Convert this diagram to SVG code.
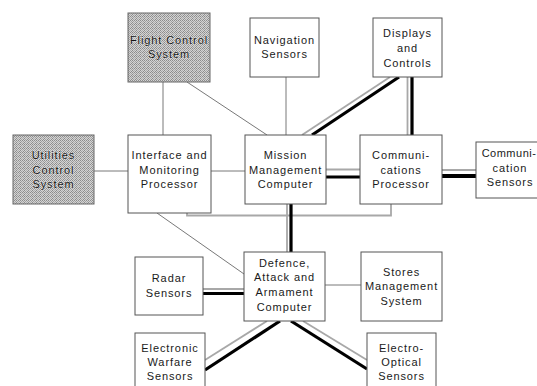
<svg xmlns="http://www.w3.org/2000/svg" width="537" height="386" viewBox="0 0 537 386">
  <defs>
    <!-- dithered grey fill for the control-system boxes -->
    <pattern id="dither" width="4" height="4" patternUnits="userSpaceOnUse">
      <rect width="4" height="4" fill="#d4d4d4"/>
      <rect x="0" y="0" width="1" height="1" fill="#8c8c8c"/>
      <rect x="2" y="0" width="1" height="1" fill="#8c8c8c"/>
      <rect x="1" y="1" width="1" height="1" fill="#a0a0a0"/>
      <rect x="3" y="1" width="1" height="1" fill="#a0a0a0"/>
      <rect x="0" y="2" width="1" height="1" fill="#8c8c8c"/>
      <rect x="2" y="2" width="1" height="1" fill="#b0b0b0"/>
      <rect x="1" y="3" width="1" height="1" fill="#a0a0a0"/>
      <rect x="3" y="3" width="1" height="1" fill="#8c8c8c"/>
    </pattern>
  </defs>
  <style>
    .box { fill: #ffffff; stroke: #555555; stroke-width: 1; }
    .shaded { fill: url(#dither); stroke: #666666; stroke-width: 1; }
    .lbl { font-family: "Liberation Sans", Arial, sans-serif; font-size: 11px; letter-spacing: 0.9px; fill: #1a1a1a; text-anchor: middle; }
    .lbl-shaded { stroke: #f2f2f2; stroke-width: 0.6px; paint-order: stroke; fill: #111111; }
    .thin { stroke: #555555; stroke-width: 0.8; fill: none; }
    .grey { stroke: #a8a8a8; stroke-width: 1.8; fill: none; }
    .thick { stroke: #000000; stroke-width: 3.2; fill: none; }
    .thicker { stroke: #000000; stroke-width: 4.2; fill: none; }
  </style>
  <rect width="537" height="386" fill="#ffffff"/>

  <g id="connectors">
    <!-- plain links -->
    <line class="thin" x1="163" y1="82" x2="163" y2="135"/>
    <line class="thin" x1="187" y1="82" x2="267" y2="135"/>
    <line class="thin" x1="286" y1="77" x2="286" y2="135"/>
    <line class="thin" x1="94" y1="171" x2="128" y2="171"/>
    <line class="thin" x1="211" y1="171" x2="245" y2="171"/>
    <line class="thin" x1="157" y1="213" x2="244" y2="274"/>
    <line class="thin" x1="325" y1="285" x2="361" y2="285"/>
    <!-- bus below the processors -->
    <polyline class="grey" points="187,213 187,215.5 391,215.5 391,204"/>
    <!-- Displays to Mission Management -->
    <line class="grey" x1="390" y1="77" x2="302" y2="135"/>
    <line class="thick" x1="399" y1="77" x2="312" y2="135"/>
    <!-- Displays to Communications Processor -->
    <line class="grey" x1="407.5" y1="77" x2="407.5" y2="135"/>
    <line class="thick" x1="412" y1="77" x2="412" y2="135"/>
    <!-- Mission Management to Communications Processor -->
    <line class="grey" x1="326" y1="169.5" x2="360" y2="169.5"/>
    <line class="thick" x1="326" y1="177" x2="360" y2="177"/>
    <!-- Communications Processor to Communication Sensors -->
    <line class="grey" x1="442" y1="170" x2="476" y2="170"/>
    <line class="thicker" x1="442" y1="176" x2="476" y2="176"/>
    <!-- Mission Management to Defence, Attack and Armament -->
    <line class="grey" x1="287" y1="204" x2="287" y2="252"/>
    <line class="thick" x1="291" y1="204" x2="291" y2="252"/>
    <!-- Radar to Defence, Attack and Armament -->
    <line class="grey" x1="203" y1="289" x2="244" y2="289"/>
    <line class="thick" x1="203" y1="293.5" x2="244" y2="293.5"/>
    <!-- Defence, Attack and Armament to EW sensors -->
    <line class="grey" x1="267" y1="321" x2="205" y2="360"/>
    <line class="thick" x1="280" y1="321" x2="205" y2="370"/>
    <!-- Defence, Attack and Armament to EO sensors -->
    <line class="thick" x1="291" y1="321" x2="367" y2="369"/>
    <line class="grey" x1="303" y1="321" x2="367" y2="360"/>
  </g>

  <g id="flight-control">
    <rect class="shaded" x="128" y="13" width="82" height="69"/>
    <text class="lbl lbl-shaded" x="169" y="44">Flight Control</text>
    <text class="lbl lbl-shaded" x="169" y="58">System</text>
  </g>
  <g id="navigation">
    <rect class="box" x="250" y="18" width="69" height="59"/>
    <text class="lbl" x="284.5" y="44">Navigation</text>
    <text class="lbl" x="284.5" y="58">Sensors</text>
  </g>
  <g id="displays">
    <rect class="box" x="373" y="18" width="69" height="59"/>
    <text class="lbl" x="407.5" y="37">Displays</text>
    <text class="lbl" x="407.5" y="52">and</text>
    <text class="lbl" x="407.5" y="67">Controls</text>
  </g>
  <g id="utilities">
    <rect class="shaded" x="13" y="135" width="81" height="69"/>
    <text class="lbl lbl-shaded" x="53.5" y="159">Utilities</text>
    <text class="lbl lbl-shaded" x="53.5" y="174">Control</text>
    <text class="lbl lbl-shaded" x="53.5" y="188">System</text>
  </g>
  <g id="interface-monitoring">
    <rect class="box" x="128" y="135" width="83" height="78"/>
    <text class="lbl" x="169.5" y="159">Interface and</text>
    <text class="lbl" x="169.5" y="174">Monitoring</text>
    <text class="lbl" x="169.5" y="188">Processor</text>
  </g>
  <g id="mission-management">
    <rect class="box" x="245" y="135" width="81" height="69"/>
    <text class="lbl" x="285.5" y="159">Mission</text>
    <text class="lbl" x="285.5" y="174">Management</text>
    <text class="lbl" x="285.5" y="188">Computer</text>
  </g>
  <g id="comms-processor">
    <rect class="box" x="360" y="135" width="82" height="69"/>
    <text class="lbl" x="401" y="159">Communi-</text>
    <text class="lbl" x="401" y="174">cations</text>
    <text class="lbl" x="401" y="188">Processor</text>
  </g>
  <g id="comms-sensors">
    <rect class="box" x="476" y="142" width="72" height="56"/>
    <text class="lbl" x="509" y="157" style="letter-spacing:0.5px">Communi-</text>
    <text class="lbl" x="510" y="172">cation</text>
    <text class="lbl" x="510" y="186">Sensors</text>
  </g>
  <g id="defence-attack">
    <rect class="box" x="244" y="252" width="81" height="69"/>
    <text class="lbl" x="284.5" y="267">Defence,</text>
    <text class="lbl" x="284.5" y="281">Attack and</text>
    <text class="lbl" x="284.5" y="296">Armament</text>
    <text class="lbl" x="284.5" y="311">Computer</text>
  </g>
  <g id="radar">
    <rect class="box" x="135" y="257" width="68" height="58"/>
    <text class="lbl" x="169" y="282">Radar</text>
    <text class="lbl" x="169" y="297">Sensors</text>
  </g>
  <g id="stores">
    <rect class="box" x="361" y="252" width="81" height="69"/>
    <text class="lbl" x="401.5" y="276">Stores</text>
    <text class="lbl" x="401.5" y="290">Management</text>
    <text class="lbl" x="401.5" y="305">System</text>
  </g>
  <g id="electronic-warfare">
    <rect class="box" x="135" y="333" width="70" height="60"/>
    <text class="lbl" x="170" y="352">Electronic</text>
    <text class="lbl" x="170" y="366">Warfare</text>
    <text class="lbl" x="170" y="380">Sensors</text>
  </g>
  <g id="electro-optical">
    <rect class="box" x="367" y="333" width="69" height="60"/>
    <text class="lbl" x="401.5" y="352">Electro-</text>
    <text class="lbl" x="401.5" y="366">Optical</text>
    <text class="lbl" x="401.5" y="380">Sensors</text>
  </g>
</svg>
